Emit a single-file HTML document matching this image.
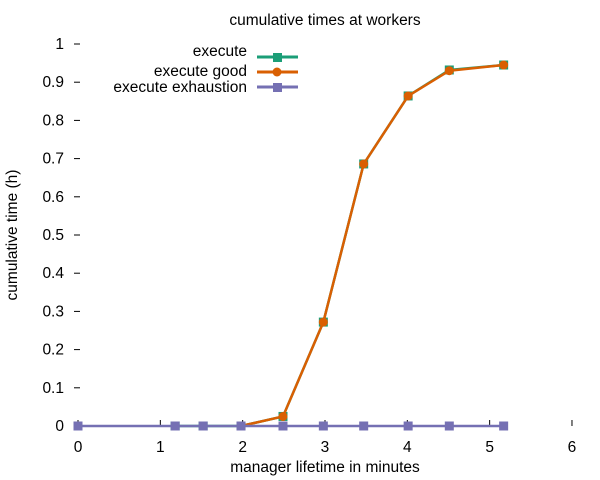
<!DOCTYPE html>
<html><head><meta charset="utf-8"><style>
body{margin:0;background:#fff}
svg{display:block;font-family:"Liberation Sans",sans-serif}
</style></head><body>
<svg id="c" width="600" height="480">
<text x="325" y="25" font-size="15.5" text-anchor="middle">cumulative times at workers</text>
<text x="325" y="472" font-size="15.5" text-anchor="middle">manager lifetime in minutes</text>
<text transform="translate(17,235) rotate(-90)" font-size="15.5" text-anchor="middle">cumulative time (h)</text>
<g id="axes"></g><g id="series"></g>
<g font-size="15.5" text-anchor="end">
<text x="247" y="56">execute</text>
<text x="247" y="76">execute good</text>
<text x="247" y="92">execute exhaustion</text>
<line x1="257" y1="57" x2="298" y2="57" stroke="#1b9e77" stroke-width="3"/><rect x="273" y="53" width="9" height="9" fill="#1b9e77"/>
<line x1="257" y1="72" x2="298" y2="72" stroke="#d95f02" stroke-width="3"/><circle cx="277" cy="72" r="4.5" fill="#d95f02"/>
<line x1="257" y1="87" x2="298" y2="87" stroke="#7570b3" stroke-width="3"/><rect x="273" y="83" width="9" height="9" fill="#7570b3"/>
</g>
</svg>
<script>
const xTicks=[0,1,2,3,4,5,6];
const yTicks=[0,0.1,0.2,0.3,0.4,0.5,0.6,0.7,0.8,0.9,1];
const yTickLabels=["0","0.1","0.2","0.3","0.4","0.5","0.6","0.7","0.8","0.9","1"];
const execX=[1.18,1.52,1.98,2.49,2.98,3.47,4.01,4.51,5.17];
const execY=[0,0,0,0.025,0.272,0.686,0.864,0.932,0.945];
const goodX=[1.98,2.49,2.98,3.47,4.01,4.51,5.17];
const goodY=[0,0.025,0.272,0.686,0.864,0.930,0.945];
const exhX=[0,1.18,1.52,1.98,2.49,2.98,3.47,4.01,4.51,5.17];
const exhY=[0,0,0,0,0,0,0,0,0,0];
const NS="http://www.w3.org/2000/svg";
const sx=v=>78+v*82.33, sy=v=>426-v*382;
function mk(t,a,p){const e=document.createElementNS(NS,t);for(const k in a)e.setAttribute(k,a[k]);p.appendChild(e);return e;}
const ax=document.getElementById('axes'), se=document.getElementById('series');
xTicks.forEach(v=>{
  const l=mk('line',{x1:sx(v),x2:sx(v),y1:426,y2:420,stroke:'#000'},ax);
  
  
  const t=mk('text',{x:sx(v),y:452,'font-size':15.5,'text-anchor':'middle'},ax);t.textContent=v;
  
  
});
yTicks.forEach((v,i)=>{
  const l=mk('line',{x1:74,x2:80,y1:sy(v),y2:sy(v),stroke:'#000'},ax);
  
  
  const t=mk('text',{x:64,y:sy(v)+5,'font-size':15.5,'text-anchor':'end'},ax);t.textContent=yTickLabels[i];
  
  
});
function series(xs,ys,col,shape,name){
  const g=mk('g',{},se);
  
  
  mk('polyline',{points:xs.map((x,i)=>sx(x)+','+sy(ys[i])).join(' '),fill:'none',stroke:col,'stroke-width':2.5},g);
  xs.forEach((x,i)=>{
    let p;
    if(shape==='c')p=mk('circle',{cx:sx(x),cy:sy(ys[i]),r:4.5,fill:col},g);
    else p=mk('rect',{x:sx(x)-4.5,y:sy(ys[i])-4.5,width:9,height:9,fill:col},g);
    
    
  });
}
series(execX,execY,'#1b9e77','s','series-execute');
series(goodX,goodY,'#d95f02','c','series-execute-good');
series(exhX,exhY,'#7570b3','s','series-execute-exhaustion');
</script>
</body></html>
